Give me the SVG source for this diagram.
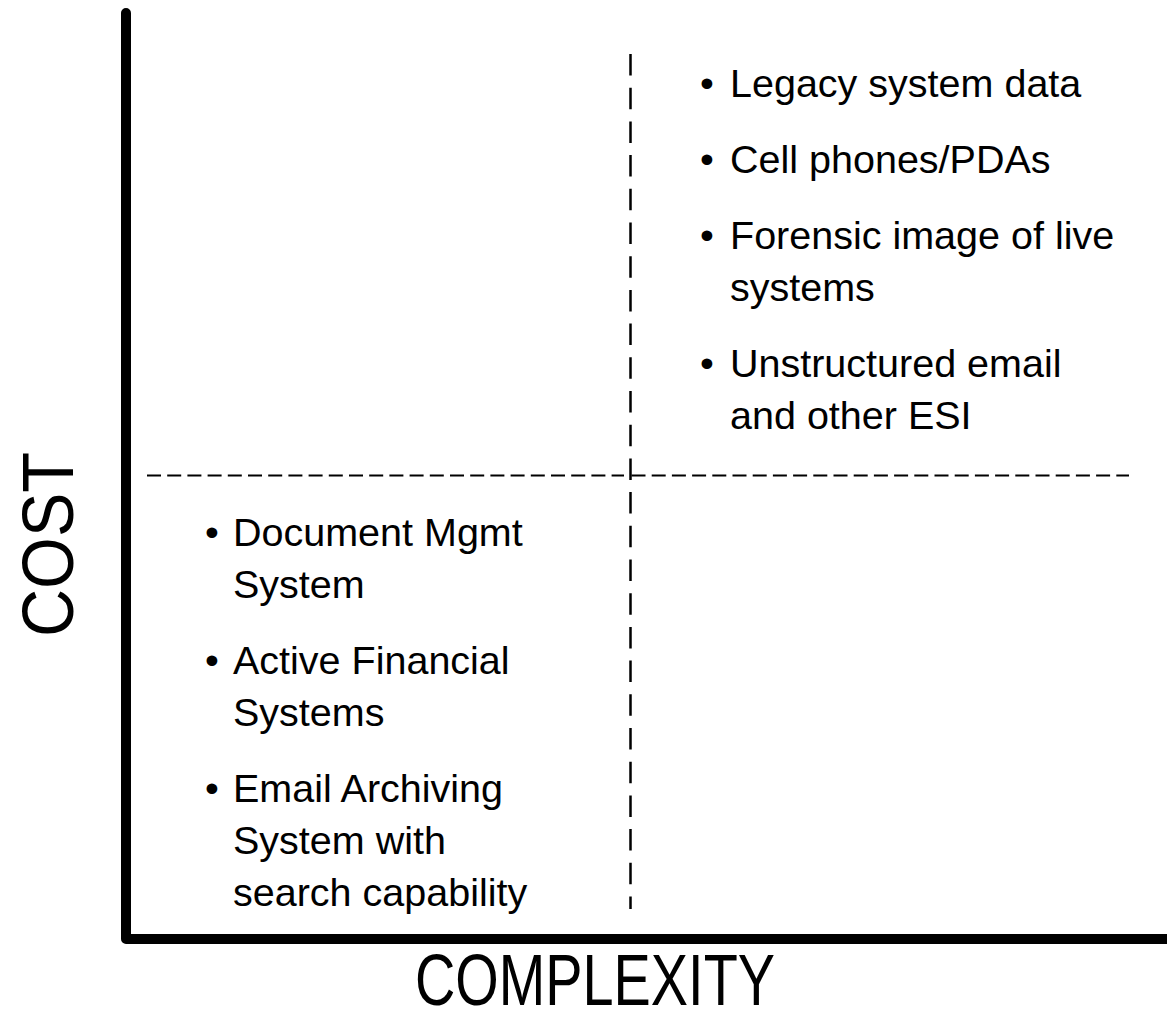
<svg xmlns="http://www.w3.org/2000/svg" width="1167" height="1018" viewBox="0 0 1167 1018">
  <style>
    .axis { fill: none; stroke: #000; stroke-width: 10; stroke-linecap: round; stroke-linejoin: round; }
    .dash-h { stroke: #000; stroke-width: 2; stroke-dasharray: 14 6.2; fill: none; }
    .dash-v { stroke: #000; stroke-width: 2.5; stroke-dasharray: 21.5 12.2; fill: none; }
    .item { font-family: "Liberation Sans", Arial, sans-serif; font-size: 39.5px; fill: #000; }
    .label { font-family: "Liberation Sans", Arial, sans-serif; fill: #000; }
  </style>
  <rect width="1167" height="1018" fill="#fff"/>
  <g id="connectors">
    <path class="axis" d="M126,13 L126,939 L1167,939"/>
    <line class="dash-h" x1="147" y1="475.5" x2="624" y2="475.5"/>
    <line class="dash-h" x1="631.5" y1="475.5" x2="1129" y2="475.5"/>
    <line class="dash-v" x1="630.5" y1="54" x2="630.5" y2="909"/>
  </g>
  <g id="y-axis-label">
    <text class="label" font-size="72" text-anchor="middle" textLength="185" lengthAdjust="spacingAndGlyphs" transform="translate(73,544.5) rotate(-90)">COST</text>
  </g>
  <g id="x-axis-label">
    <text class="label" x="595" y="1005" font-size="72" text-anchor="middle" textLength="360" lengthAdjust="spacingAndGlyphs">COMPLEXITY</text>
  </g>
  <g id="high-quadrant">
    <text class="item" x="700" y="97">•</text>
    <text class="item" x="730" y="97">Legacy system data</text>
    <text class="item" x="700" y="173">•</text>
    <text class="item" x="730" y="173">Cell phones/PDAs</text>
    <text class="item" x="700" y="249">•</text>
    <text class="item" x="730" y="249">Forensic image of live</text>
    <text class="item" x="730" y="301">systems</text>
    <text class="item" x="700" y="377">•</text>
    <text class="item" x="730" y="377">Unstructured email</text>
    <text class="item" x="730" y="429">and other ESI</text>
  </g>
  <g id="low-quadrant">
    <text class="item" x="205" y="546">•</text>
    <text class="item" x="233" y="546">Document Mgmt</text>
    <text class="item" x="233" y="598">System</text>
    <text class="item" x="205" y="674">•</text>
    <text class="item" x="233" y="674">Active Financial</text>
    <text class="item" x="233" y="726">Systems</text>
    <text class="item" x="205" y="802">•</text>
    <text class="item" x="233" y="802">Email Archiving</text>
    <text class="item" x="233" y="854">System with</text>
    <text class="item" x="233" y="906">search capability</text>
  </g>
</svg>
